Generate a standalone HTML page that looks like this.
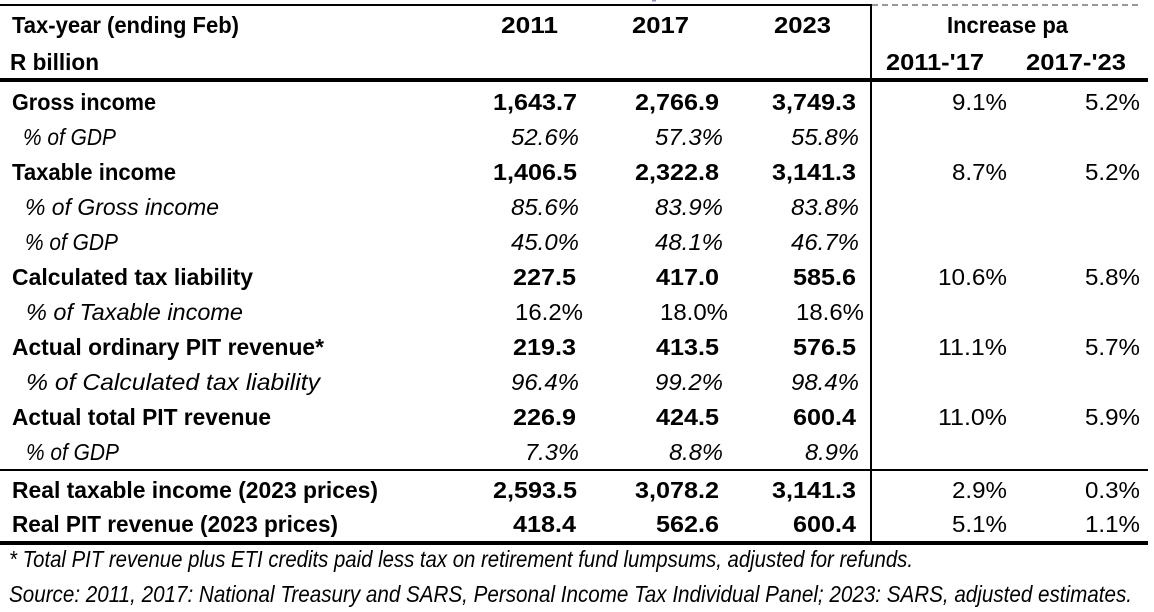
<!DOCTYPE html>
<html>
<head>
<meta charset="utf-8">
<style>
  html, body { margin: 0; padding: 0; background: #fff; }
  svg { display: block; }
  text { font-family: "Liberation Sans", Arial, sans-serif; fill: #000; font-size: 23px; }
  .b { font-weight: bold; }
  .i { font-style: italic; }
</style>
</head>
<body>
<svg width="1154" height="612" viewBox="0 0 1154 612" xmlns="http://www.w3.org/2000/svg">
  <rect width="1154" height="612" fill="#fff"/>

  <!-- lines -->
  <rect x="0" y="4" width="872" height="2" fill="#000"/>
  <line x1="872" y1="5" x2="1142" y2="5" stroke="#777" stroke-width="1.5" stroke-dasharray="6,4"/>
  <rect x="652" y="0" width="4" height="1.5" fill="#8a93b8"/>
  <rect x="0" y="78" width="1148" height="4" fill="#000"/>
  <rect x="0" y="469" width="1148" height="2" fill="#000"/>
  <rect x="0" y="541" width="1148" height="4" fill="#000"/>
  <rect x="870" y="5" width="2" height="537" fill="#000"/>

  <!-- header -->
  <text class="b" x="12" y="33" textLength="227" lengthAdjust="spacingAndGlyphs">Tax-year (ending Feb)</text>
  <text class="b" x="10" y="70" textLength="89" lengthAdjust="spacingAndGlyphs">R billion</text>
  <text class="b" x="501" y="33" textLength="57" lengthAdjust="spacingAndGlyphs">2011</text>
  <text class="b" x="632" y="33" textLength="57" lengthAdjust="spacingAndGlyphs">2017</text>
  <text class="b" x="774" y="33" textLength="57" lengthAdjust="spacingAndGlyphs">2023</text>
  <text class="b" x="947" y="33" textLength="121" lengthAdjust="spacingAndGlyphs">Increase pa</text>
  <text class="b" x="886" y="70" textLength="98" lengthAdjust="spacingAndGlyphs">2011-'17</text>
  <text class="b" x="1026" y="70" textLength="100" lengthAdjust="spacingAndGlyphs">2017-'23</text>

  <!-- Row labels -->
  <text class="b" x="12" y="110" textLength="144" lengthAdjust="spacingAndGlyphs">Gross income</text>
  <text class="i" x="23" y="145" textLength="93" lengthAdjust="spacingAndGlyphs">% of GDP</text>
  <text class="b" x="12" y="180" textLength="164" lengthAdjust="spacingAndGlyphs">Taxable income</text>
  <text class="i" x="25" y="215" textLength="194" lengthAdjust="spacingAndGlyphs">% of Gross income</text>
  <text class="i" x="25" y="250" textLength="93" lengthAdjust="spacingAndGlyphs">% of GDP</text>
  <text class="b" x="12" y="285" textLength="241" lengthAdjust="spacingAndGlyphs">Calculated tax liability</text>
  <text class="i" x="26" y="320" textLength="217" lengthAdjust="spacingAndGlyphs">% of Taxable income</text>
  <text class="b" x="12" y="355" textLength="312" lengthAdjust="spacingAndGlyphs">Actual ordinary PIT revenue*</text>
  <text class="i" x="26" y="390" textLength="294" lengthAdjust="spacingAndGlyphs">% of Calculated tax liability</text>
  <text class="b" x="12" y="425" textLength="259" lengthAdjust="spacingAndGlyphs">Actual total PIT revenue</text>
  <text class="i" x="26" y="460" textLength="93" lengthAdjust="spacingAndGlyphs">% of GDP</text>
  <text class="b" x="12" y="498" textLength="366" lengthAdjust="spacingAndGlyphs">Real taxable income (2023 prices)</text>
  <text class="b" x="12" y="532" textLength="326" lengthAdjust="spacingAndGlyphs">Real PIT revenue (2023 prices)</text>

  <!-- Gross income -->
  <text class="b" x="577" y="110" text-anchor="end" textLength="84" lengthAdjust="spacingAndGlyphs">1,643.7</text>
  <text class="b" x="719" y="110" text-anchor="end" textLength="84" lengthAdjust="spacingAndGlyphs">2,766.9</text>
  <text class="b" x="856" y="110" text-anchor="end" textLength="84" lengthAdjust="spacingAndGlyphs">3,749.3</text>
  <text x="1007" y="110" text-anchor="end" textLength="55" lengthAdjust="spacingAndGlyphs">9.1%</text>
  <text x="1140" y="110" text-anchor="end" textLength="55" lengthAdjust="spacingAndGlyphs">5.2%</text>

  <!-- % of GDP -->
  <text class="i" x="579" y="145" text-anchor="end" textLength="68" lengthAdjust="spacingAndGlyphs">52.6%</text>
  <text class="i" x="723" y="145" text-anchor="end" textLength="68" lengthAdjust="spacingAndGlyphs">57.3%</text>
  <text class="i" x="859" y="145" text-anchor="end" textLength="68" lengthAdjust="spacingAndGlyphs">55.8%</text>

  <!-- Taxable income -->
  <text class="b" x="577" y="180" text-anchor="end" textLength="84" lengthAdjust="spacingAndGlyphs">1,406.5</text>
  <text class="b" x="719" y="180" text-anchor="end" textLength="84" lengthAdjust="spacingAndGlyphs">2,322.8</text>
  <text class="b" x="856" y="180" text-anchor="end" textLength="84" lengthAdjust="spacingAndGlyphs">3,141.3</text>
  <text x="1007" y="180" text-anchor="end" textLength="55" lengthAdjust="spacingAndGlyphs">8.7%</text>
  <text x="1140" y="180" text-anchor="end" textLength="55" lengthAdjust="spacingAndGlyphs">5.2%</text>

  <!-- % of Gross income -->
  <text class="i" x="579" y="215" text-anchor="end" textLength="68" lengthAdjust="spacingAndGlyphs">85.6%</text>
  <text class="i" x="723" y="215" text-anchor="end" textLength="68" lengthAdjust="spacingAndGlyphs">83.9%</text>
  <text class="i" x="859" y="215" text-anchor="end" textLength="68" lengthAdjust="spacingAndGlyphs">83.8%</text>

  <!-- % of GDP -->
  <text class="i" x="579" y="250" text-anchor="end" textLength="68" lengthAdjust="spacingAndGlyphs">45.0%</text>
  <text class="i" x="723" y="250" text-anchor="end" textLength="68" lengthAdjust="spacingAndGlyphs">48.1%</text>
  <text class="i" x="859" y="250" text-anchor="end" textLength="68" lengthAdjust="spacingAndGlyphs">46.7%</text>

  <!-- Calculated tax liability -->
  <text class="b" x="576" y="285" text-anchor="end" textLength="63" lengthAdjust="spacingAndGlyphs">227.5</text>
  <text class="b" x="719" y="285" text-anchor="end" textLength="63" lengthAdjust="spacingAndGlyphs">417.0</text>
  <text class="b" x="856" y="285" text-anchor="end" textLength="63" lengthAdjust="spacingAndGlyphs">585.6</text>
  <text x="1007" y="285" text-anchor="end" textLength="69" lengthAdjust="spacingAndGlyphs">10.6%</text>
  <text x="1140" y="285" text-anchor="end" textLength="55" lengthAdjust="spacingAndGlyphs">5.8%</text>

  <!-- % of Taxable income (upright) -->
  <text x="583" y="320" text-anchor="end" textLength="68" lengthAdjust="spacingAndGlyphs">16.2%</text>
  <text x="728" y="320" text-anchor="end" textLength="68" lengthAdjust="spacingAndGlyphs">18.0%</text>
  <text x="864" y="320" text-anchor="end" textLength="68" lengthAdjust="spacingAndGlyphs">18.6%</text>

  <!-- Actual ordinary PIT revenue -->
  <text class="b" x="576" y="355" text-anchor="end" textLength="63" lengthAdjust="spacingAndGlyphs">219.3</text>
  <text class="b" x="719" y="355" text-anchor="end" textLength="63" lengthAdjust="spacingAndGlyphs">413.5</text>
  <text class="b" x="856" y="355" text-anchor="end" textLength="63" lengthAdjust="spacingAndGlyphs">576.5</text>
  <text x="1007" y="355" text-anchor="end" textLength="69" lengthAdjust="spacingAndGlyphs">11.1%</text>
  <text x="1140" y="355" text-anchor="end" textLength="55" lengthAdjust="spacingAndGlyphs">5.7%</text>

  <!-- % of Calculated tax liability -->
  <text class="i" x="579" y="390" text-anchor="end" textLength="68" lengthAdjust="spacingAndGlyphs">96.4%</text>
  <text class="i" x="723" y="390" text-anchor="end" textLength="68" lengthAdjust="spacingAndGlyphs">99.2%</text>
  <text class="i" x="859" y="390" text-anchor="end" textLength="68" lengthAdjust="spacingAndGlyphs">98.4%</text>

  <!-- Actual total PIT revenue -->
  <text class="b" x="576" y="425" text-anchor="end" textLength="63" lengthAdjust="spacingAndGlyphs">226.9</text>
  <text class="b" x="719" y="425" text-anchor="end" textLength="63" lengthAdjust="spacingAndGlyphs">424.5</text>
  <text class="b" x="856" y="425" text-anchor="end" textLength="63" lengthAdjust="spacingAndGlyphs">600.4</text>
  <text x="1007" y="425" text-anchor="end" textLength="69" lengthAdjust="spacingAndGlyphs">11.0%</text>
  <text x="1140" y="425" text-anchor="end" textLength="55" lengthAdjust="spacingAndGlyphs">5.9%</text>

  <!-- % of GDP -->
  <text class="i" x="579" y="460" text-anchor="end" textLength="54" lengthAdjust="spacingAndGlyphs">7.3%</text>
  <text class="i" x="723" y="460" text-anchor="end" textLength="54" lengthAdjust="spacingAndGlyphs">8.8%</text>
  <text class="i" x="859" y="460" text-anchor="end" textLength="54" lengthAdjust="spacingAndGlyphs">8.9%</text>

  <!-- Real taxable income -->
  <text class="b" x="577" y="498" text-anchor="end" textLength="84" lengthAdjust="spacingAndGlyphs">2,593.5</text>
  <text class="b" x="719" y="498" text-anchor="end" textLength="84" lengthAdjust="spacingAndGlyphs">3,078.2</text>
  <text class="b" x="856" y="498" text-anchor="end" textLength="84" lengthAdjust="spacingAndGlyphs">3,141.3</text>
  <text x="1007" y="498" text-anchor="end" textLength="55" lengthAdjust="spacingAndGlyphs">2.9%</text>
  <text x="1140" y="498" text-anchor="end" textLength="55" lengthAdjust="spacingAndGlyphs">0.3%</text>

  <!-- Real PIT revenue -->
  <text class="b" x="576" y="532" text-anchor="end" textLength="63" lengthAdjust="spacingAndGlyphs">418.4</text>
  <text class="b" x="719" y="532" text-anchor="end" textLength="63" lengthAdjust="spacingAndGlyphs">562.6</text>
  <text class="b" x="856" y="532" text-anchor="end" textLength="63" lengthAdjust="spacingAndGlyphs">600.4</text>
  <text x="1007" y="532" text-anchor="end" textLength="55" lengthAdjust="spacingAndGlyphs">5.1%</text>
  <text x="1140" y="532" text-anchor="end" textLength="55" lengthAdjust="spacingAndGlyphs">1.1%</text>

  <!-- Footnotes -->
  <text class="i" x="9" y="567" textLength="904" lengthAdjust="spacingAndGlyphs" style="font-size:23px">* Total PIT revenue plus ETI credits paid less tax on retirement fund lumpsums, adjusted for refunds.</text>
  <text class="i" x="9" y="602" textLength="1123" lengthAdjust="spacingAndGlyphs" style="font-size:23px">Source: 2011, 2017: National Treasury and SARS, Personal Income Tax Individual Panel; 2023: SARS, adjusted estimates.</text>
</svg>
</body>
</html>
